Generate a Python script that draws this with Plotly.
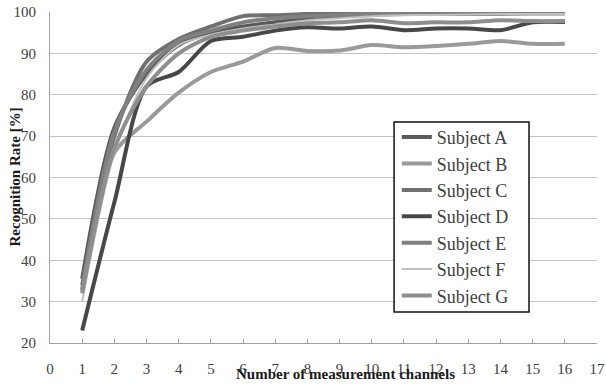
import plotly.graph_objects as go

channels = list(range(1, 17))
subject_names = ["Subject A", "Subject B", "Subject C", "Subject D", "Subject E", "Subject F", "Subject G"]
subject_a = [35.5, 72, 85, 92, 95, 96.5, 97.5, 98.5, 99, 99.3, 99.5, 99.5, 99.6, 99.7, 99.7, 99.7]
subject_b = [32.5, 66, 73.5, 80.5, 85.5, 88, 91.3, 90.6, 90.7, 92, 91.5, 91.8, 92.3, 93, 92.3, 92.3]
subject_c = [34, 70, 88, 93.5, 96.5, 99, 99.2, 99.5, 99.6, 99.7, 99.7, 99.8, 99.8, 99.8, 99.8, 99.8]
subject_d = [23, 54, 82, 85.5, 93, 94, 95.5, 96.3, 96, 96.5, 95.6, 96, 96, 95.6, 97.5, 97.6]
subject_e = [33, 71, 86, 93, 95.5, 97.5, 98.5, 99, 99.3, 99.5, 99.5, 99.5, 99.6, 99.6, 99.7, 99.7]
subject_f = [30, 66, 84, 92, 94.5, 96, 97, 98, 98.5, 99, 99.2, 99.3, 99.4, 99.5, 99.5, 99.5]
subject_g = [32, 67, 82, 90, 94, 95.5, 96.5, 97.3, 97.5, 98, 97.3, 97.5, 97.5, 98, 97.8, 97.8]
x_ticks = list(range(0, 18))
y_ticks = list(range(20, 101, 10))

series = [subject_a, subject_b, subject_c, subject_d, subject_e, subject_f, subject_g]
colors = ["#5a5a5a", "#9a9a9a", "#707070", "#474747", "#808080", "#c0c0c0", "#8e8e8e"]
widths = [4, 4, 4, 4, 4, 2, 4]

fig = go.Figure()
for name, vals, c, w in zip(subject_names, series, colors, widths):
    fig.add_trace(go.Scatter(x=channels, y=vals, name=name, mode="lines",
                             line=dict(color=c, width=w, shape="spline", smoothing=0.8)))

serif = "Liberation Serif, DejaVu Serif, serif"
fig.update_layout(
    width=606, height=386,
    margin=dict(l=50, r=9, t=12, b=43),
    paper_bgcolor="white", plot_bgcolor="white",
    font=dict(family=serif, size=15, color="#404040"),
    showlegend=True,
    legend=dict(x=0.634, y=0.677, xanchor="left", yanchor="top",
                borderwidth=0, bgcolor="rgba(0,0,0,0)",
                font=dict(family=serif, size=18, color="#404040"),
                tracegroupgap=0, itemwidth=30),
    xaxis=dict(range=[0, 17], tickvals=x_ticks, showgrid=False, showline=True,
               linecolor="#a0a0a0", linewidth=1, ticks="inside", ticklen=4,
               tickcolor="#a0a0a0", ticklabelstandoff=12, zeroline=False, automargin=False,
               ticklabeloverflow="allow",
               tickfont=dict(family=serif, size=15, color="#404040")),
    yaxis=dict(range=[20, 100], tickvals=y_ticks, showgrid=True, gridcolor="#c4c4c4",
               gridwidth=1, showline=True, linecolor="#a0a0a0", linewidth=1,
               ticks="", zeroline=False, ticklabelstandoff=10, automargin=False,
               ticklabeloverflow="allow",
               tickfont=dict(family=serif, size=15, color="#404040")),
)
# legend frame
fig.add_shape(type="rect", xref="paper", yref="paper", x0=0.629, x1=0.8757, y0=0.0937, y1=0.6677,
              line=dict(color="#111111", width=1.5), fillcolor="white", layer="above")
fig.add_annotation(text="<b>Number of measurement channels</b>", xref="paper", yref="paper",
                   x=0.541, y=-0.0937, xanchor="center", yanchor="middle", showarrow=False,
                   font=dict(family=serif, size=15, color="#1a1a1a"))
fig.add_annotation(text="<b>Recognition Rate [%]</b>", xref="paper", yref="paper",
                   x=-0.0658, y=0.5, xanchor="center", yanchor="middle", showarrow=False,
                   textangle=-90, font=dict(family=serif, size=15, color="#1a1a1a"))

# remove the browser's default 8px page margin so the figure sits at the window origin
fig.write_html("out.html", config={"displayModeBar": False},
               post_script="document.body.style.margin='0px';")
